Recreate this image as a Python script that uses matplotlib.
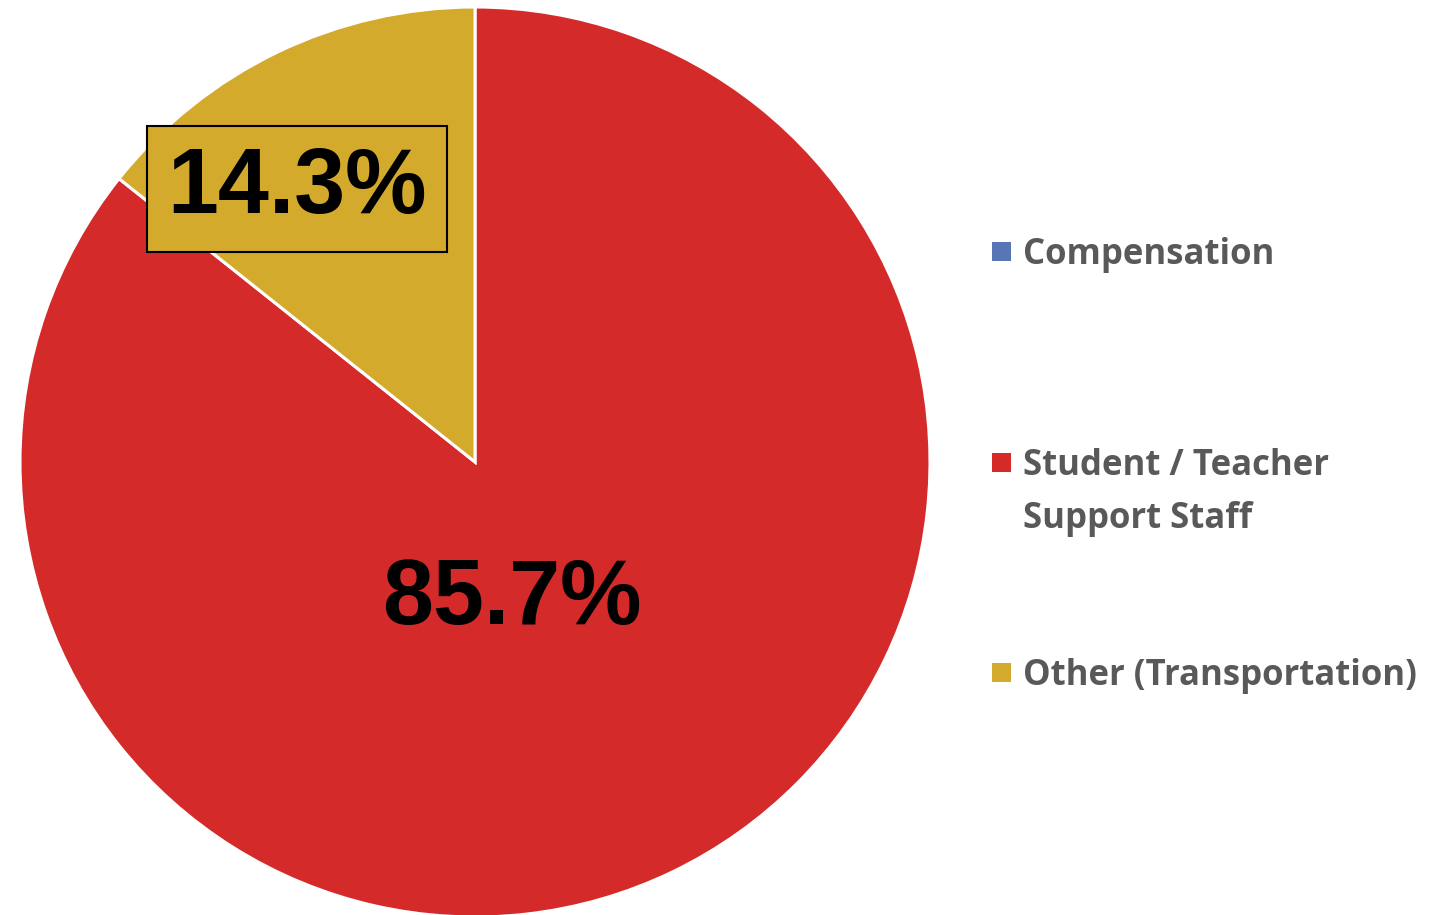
import matplotlib.pyplot as plt
from matplotlib.patches import Rectangle

# data
categories = ['Compensation', 'Student / Teacher\nSupport Staff', 'Other (Transportation)']
shares = [0.0, 85.7, 14.3]
colors = ['#5875B5', '#D42A2A', '#D4AA2C']

W, H = 1440, 915
fig = plt.figure(figsize=(W / 100, H / 100), dpi=100)

# pie axes: centre (475, 462) px, radius 455 px
cx, cy, r = 475, 462, 455
ax = fig.add_axes([(cx - r) / W, (H - cy - r) / H, 2 * r / W, 2 * r / H])
wedges, _ = ax.pie(shares, colors=colors, startangle=90, counterclock=False,
                   wedgeprops=dict(edgecolor='white', linewidth=2.2), radius=1.0)
ax.set_xlim(-1, 1)
ax.set_ylim(-1, 1)
ax.set_aspect('equal')
ax.axis('off')

def px2data(x, y):
    return (x - cx) / r, (cy - y) / r

# percentage labels
x, y = px2data(512, 600)
ax.text(x, y, f'{shares[1]:.1f}%', ha='center', va='center', fontsize=66,
        fontweight='bold', family='Liberation Sans', color='black')
x, y = px2data(297, 189)
ax.text(x, y, f'{shares[2]:.1f}%', ha='center', va='center', fontsize=66,
        fontweight='bold', family='Liberation Sans', color='black',
        bbox=dict(boxstyle='square,pad=0.22', facecolor=colors[2],
                  edgecolor='black', linewidth=1.5))

# legend drawn by hand (Excel style)
leg_y = [251, 462, 672]
for lab, col, ly in zip(categories, colors, leg_y):
    fig.patches.append(Rectangle((992 / W, (H - ly - 10) / H), 19 / W, 19 / H,
                                 facecolor=col, edgecolor='none',
                                 transform=fig.transFigure, figure=fig))
    fig.text(1023 / W, (H - ly + 14) / H, lab, ha='left', va='top',
             fontsize=25, family='Open Sans', fontweight='bold',
             color='#595959', linespacing=1.62)

fig.savefig('out.png', dpi=100)
